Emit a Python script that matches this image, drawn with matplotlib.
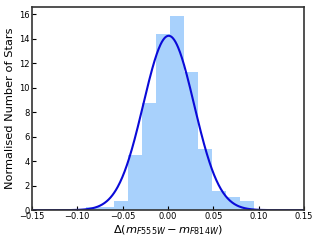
import numpy as np
import matplotlib
matplotlib.use("Agg")
import matplotlib.pyplot as plt

# histogram (normalised)
bin_edges = np.linspace(-0.0904, 0.0948, 13)
bin_heights = [0.22, 0.22, 0.75, 4.5, 8.72, 14.38, 15.86, 11.3, 4.98, 1.56, 1.09, 0.74]

# gaussian fit
mu = 0.0008
sigma = 0.028

x = np.linspace(-0.15, 0.15, 600)
pdf = np.exp(-0.5 * ((x - mu) / sigma) ** 2) / (sigma * np.sqrt(2 * np.pi))

fig = plt.figure(figsize=(3.19, 2.41), dpi=100)
ax = fig.add_axes([0.1, 0.128, 0.853, 0.843])

ax.bar(bin_edges[:-1], bin_heights, width=np.diff(bin_edges), align="edge",
       color="#a8d1fc", linewidth=0)
ax.plot(x, pdf, color="#0a0ad8", lw=1.5)

ax.set_xlim(-0.15, 0.15)
ax.set_ylim(0, 16.6)
ax.set_xticks([-0.15, -0.10, -0.05, 0.00, 0.05, 0.10, 0.15])
ax.set_xticklabels(["\u22120.15", "\u22120.10", "\u22120.05", "0.00", "0.05", "0.10", "0.15"])
ax.set_yticks(range(0, 17, 2))
ax.tick_params(direction="in", labelsize=6, length=3, width=0.8, pad=1.5)
for s in ax.spines.values():
    s.set_linewidth(1.2)
    s.set_color("#333333")

ax.set_xlabel(r"$\Delta(m_{F555W} - m_{F814W})$", fontsize=8.2, labelpad=1.5)
ax.set_ylabel("Normalised Number of Stars", fontsize=8.2, labelpad=3)

fig.savefig("out.png", dpi=100)
